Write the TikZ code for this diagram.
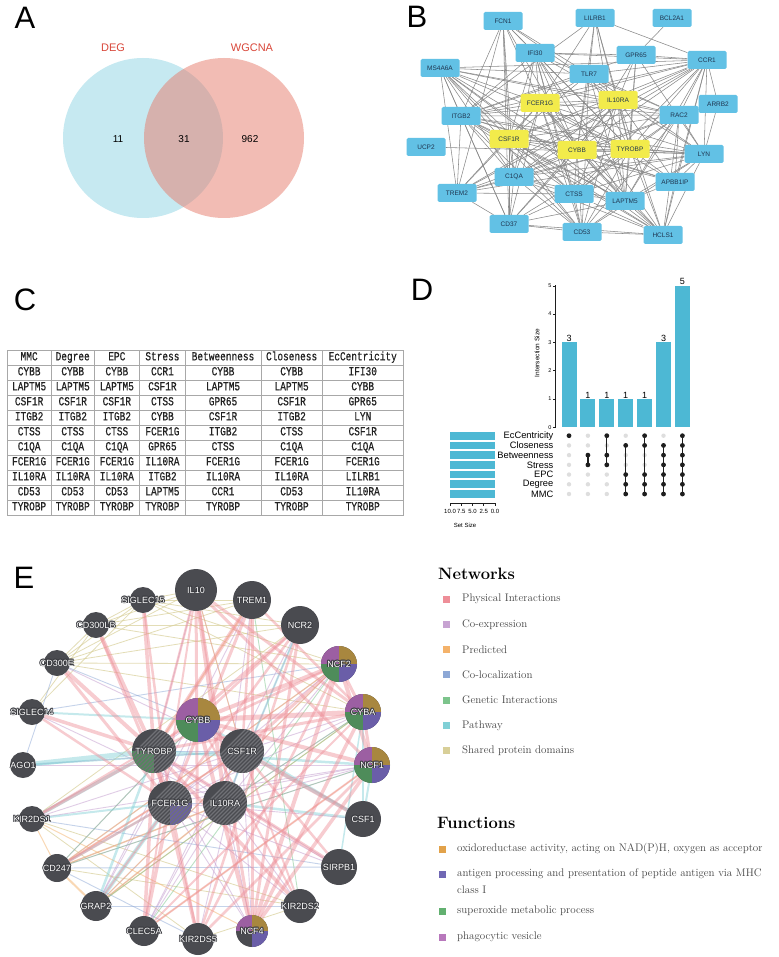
\documentclass[tikz,border=0pt]{standalone}
\usepackage{fontspec}
\newfontfamily\arial{Liberation Sans}
\newfontfamily\monof[FakeStretch=0.77,FakeBold=0.5]{Liberation Mono}
\usetikzlibrary{calc,matrix,backgrounds}
\definecolor{vblue}{HTML}{C6E9F1}
\definecolor{vred}{HTML}{E77B6B}
\definecolor{vtext}{HTML}{D9473A}
\definecolor{bblue}{HTML}{62C1E5}
\definecolor{byellow}{HTML}{F2EB4B}
\definecolor{btext}{HTML}{1F3550}
\definecolor{bedge}{HTML}{8A8A8A}
\definecolor{tabline}{HTML}{A8A8A8}
\definecolor{tabtext}{HTML}{222222}
\definecolor{ubar}{HTML}{4DB8D4}
\definecolor{udark}{HTML}{1E1E1E}
\definecolor{ugray}{HTML}{DEDEDE}
\definecolor{edark}{HTML}{4A4B50}
\definecolor{halo}{HTML}{3A3B40}
\definecolor{hatchc}{HTML}{707176}
\definecolor{qpurple}{HTML}{9C5FA2}
\definecolor{qgold}{HTML}{A8873F}
\definecolor{qgreen}{HTML}{4E8C5A}
\definecolor{qblue}{HTML}{6A5EA8}
\definecolor{physc}{HTML}{EE8E98}
\definecolor{coexpc}{HTML}{C7A3D2}
\definecolor{predc}{HTML}{F4B26A}
\definecolor{colocc}{HTML}{8DA8D6}
\definecolor{genetc}{HTML}{7CC48C}
\definecolor{pathc}{HTML}{80D0D6}
\definecolor{domc}{HTML}{D8CF98}
\definecolor{legtext}{HTML}{454545}
\definecolor{fgold}{HTML}{E2A24A}
\definecolor{fblue}{HTML}{7068B4}
\definecolor{fgreen}{HTML}{62B070}
\definecolor{fpurple}{HTML}{B878BC}
\newcommand\haloone[3]{\rlap{\kern#1\raisebox{#2}{\textcolor{halo}{#3}}}}
\newcommand\halotext[1]{\haloone{-0.8pt}{0pt}{#1}\haloone{0.8pt}{0pt}{#1}\haloone{0pt}{0.8pt}{#1}\haloone{0pt}{-0.8pt}{#1}\haloone{-0.6pt}{0.6pt}{#1}\haloone{0.6pt}{0.6pt}{#1}\haloone{-0.6pt}{-0.6pt}{#1}\haloone{0.6pt}{-0.6pt}{#1}#1}
\newcommand\hatchit[2]{\begin{scope}\clip (#1) circle[radius=#2pt];\foreach \k in {-48,-44,...,48}{\draw[hatchc,line width=1.1pt] ($(#1)+(\k pt,-30pt)$) -- ++(60pt,60pt);}\end{scope}}
\newcommand\qfill[5]{\begin{scope}\clip (#1) circle[radius=#2pt];\fill[#3] (#1) rectangle ++(#4pt,#5pt);\end{scope}}
\begin{document}
\begin{tikzpicture}[x=1pt,y=-1pt,
  letter/.style={font=\arial\fontsize{31}{31}\selectfont, inner sep=0pt},
  vlab/.style={font=\arial\fontsize{11}{12}\selectfont, text=vtext, inner sep=0pt},
  vnum/.style={font=\arial\fontsize{10}{11}\selectfont, inner sep=0pt},
  bnode/.style={fill=bblue, minimum width=39pt, minimum height=18pt, rounded corners=1.5pt, font=\arial\fontsize{6.5}{7}\selectfont, text=btext, inner sep=0pt},
  ynode/.style={bnode, fill=byellow},
  bline/.style={draw=bedge, line width=0.55pt},
  utick/.style={font=\arial\fontsize{5.5}{6}\selectfont, inner sep=0.5pt},
  ucount/.style={font=\arial\fontsize{9}{10}\selectfont, inner sep=0.8pt},
  urow/.style={font=\arial\fontsize{9.3}{10}\selectfont, inner sep=0pt},
  usmall/.style={font=\arial\fontsize{6}{7}\selectfont, inner sep=0pt},
  enode/.style={circle, fill=edark, inner sep=0pt},
  etext/.style={font=\arial\fontsize{9}{10}\selectfont, text=white, inner sep=0pt},
  phys/.style={draw=physc, draw opacity=0.45},
  pathw/.style={draw=pathc, draw opacity=0.45},
  dom/.style={draw=domc, draw opacity=0.7, line width=0.8pt},
  coexp/.style={draw=coexpc, draw opacity=0.55, line width=0.9pt},
  pred/.style={draw=predc, draw opacity=0.5},
  coloc/.style={draw=colocc, draw opacity=0.5, line width=0.9pt},
  genet/.style={draw=genetc, draw opacity=0.5, line width=0.9pt},
  ntitle/.style={font=\bfseries\fontsize{16.5}{18}\selectfont, inner sep=0pt},
  ltext/.style={font=\fontsize{11}{13}\selectfont, text=legtext, inner sep=0pt}]
\useasboundingbox (0,0) rectangle (778,957);
\begin{scope}[on background layer]
\fill[white] (0,0) rectangle (778,957);
\end{scope}

% ---------------- Panel A
\node[letter] (lA) at (25,18) {A};
\fill[vblue] (143,138) circle[radius=80pt];
\fill[vred, fill opacity=0.5] (224,138) circle[radius=80pt];
\node[vlab] (vDEG) at (113,48) {DEG};
\node[vlab] (vWG) at (252,48) {WGCNA};
\node[vnum] (v11) at (118,139) {11};
\node[vnum] (v31) at (184,139) {31};
\node[vnum] (v962) at (250,139) {962};

% ---------------- Panel B
\node[letter] (lB) at (417,17) {B};
\node[bnode] (bFCN1) at (503,21) {FCN1};
\node[bnode] (bLILRB1) at (595,18) {LILRB1};
\node[bnode] (bBCL2A1) at (672,18) {BCL2A1};
\node[bnode] (bIFI30) at (535,53) {IFI30};
\node[bnode] (bGPR65) at (636,55) {GPR65};
\node[bnode] (bCCR1) at (707,60) {CCR1};
\node[bnode] (bMS4A6A) at (440,68) {MS4A6A};
\node[bnode] (bTLR7) at (589,74) {TLR7};
\node[ynode] (bFCER1G) at (540,103) {FCER1G};
\node[ynode] (bIL10RA) at (618,100) {IL10RA};
\node[bnode] (bARRB2) at (718,104) {ARRB2};
\node[bnode] (bITGB2) at (461,116) {ITGB2};
\node[bnode] (bRAC2) at (679,115) {RAC2};
\node[ynode] (bCSF1R) at (509,139) {CSF1R};
\node[bnode] (bUCP2) at (426,147) {UCP2};
\node[ynode] (bCYBB) at (577,150) {CYBB};
\node[ynode] (bTYROBP) at (630,149) {TYROBP};
\node[bnode] (bLYN) at (704,154) {LYN};
\node[bnode] (bC1QA) at (514,177) {C1QA};
\node[bnode] (bAPBB1IP) at (675,182) {APBB1IP};
\node[bnode] (bTREM2) at (457,193) {TREM2};
\node[bnode] (bCTSS) at (574,194) {CTSS};
\node[bnode] (bLAPTM5) at (625,201) {LAPTM5};
\node[bnode] (bCD37) at (509,224) {CD37};
\node[bnode] (bCD53) at (582,232) {CD53};
\node[bnode] (bHCLS1) at (663,235) {HCLS1};
\begin{scope}[on background layer]
\foreach \h in {FCER1G,IL10RA,CSF1R,CYBB,TYROBP}{\foreach \o in {FCN1,IFI30,CCR1,MS4A6A,TLR7,ITGB2,RAC2,LYN,C1QA,APBB1IP,TREM2,CTSS,LAPTM5,CD37,CD53,HCLS1}{\draw[bline] (b\h) -- (b\o);}}
\foreach \a/\b in {FCER1G/IL10RA,FCER1G/CSF1R,FCER1G/CYBB,FCER1G/TYROBP,IL10RA/CSF1R,IL10RA/CYBB,IL10RA/TYROBP,CSF1R/CYBB,CSF1R/TYROBP,CYBB/TYROBP,
 LILRB1/FCER1G,LILRB1/TYROBP,LILRB1/CYBB,LILRB1/IL10RA,GPR65/CYBB,GPR65/IL10RA,GPR65/TYROBP,ARRB2/RAC2,ARRB2/LYN,
 FCN1/IFI30,FCN1/ITGB2,FCN1/TREM2,FCN1/C1QA,FCN1/CD37,FCN1/TLR7,
 LILRB1/CCR1,LILRB1/TLR7,LILRB1/ITGB2,LILRB1/LAPTM5,BCL2A1/GPR65,
 IFI30/GPR65,IFI30/CCR1,IFI30/ITGB2,IFI30/CTSS,IFI30/LAPTM5,IFI30/CD53,IFI30/HCLS1,IFI30/RAC2,IFI30/C1QA,
 GPR65/CCR1,GPR65/ITGB2,GPR65/LYN,GPR65/LAPTM5,
 CCR1/MS4A6A,CCR1/TLR7,CCR1/ARRB2,CCR1/RAC2,CCR1/LYN,CCR1/ITGB2,CCR1/C1QA,CCR1/CTSS,CCR1/LAPTM5,CCR1/APBB1IP,CCR1/TREM2,CCR1/HCLS1,
 MS4A6A/ITGB2,MS4A6A/TLR7,MS4A6A/TREM2,MS4A6A/CD37,MS4A6A/CTSS,MS4A6A/LAPTM5,MS4A6A/CD53,MS4A6A/HCLS1,MS4A6A/RAC2,MS4A6A/C1QA,
 TLR7/ITGB2,TLR7/RAC2,TLR7/LYN,TLR7/CD53,TLR7/LAPTM5,
 ITGB2/RAC2,ITGB2/LYN,ITGB2/C1QA,ITGB2/TREM2,ITGB2/CTSS,ITGB2/LAPTM5,ITGB2/CD37,ITGB2/CD53,ITGB2/HCLS1,ITGB2/APBB1IP,
 RAC2/LYN,RAC2/C1QA,RAC2/CTSS,RAC2/LAPTM5,RAC2/HCLS1,RAC2/CD53,RAC2/APBB1IP,UCP2/LYN,
 LYN/C1QA,LYN/TREM2,LYN/CTSS,LYN/LAPTM5,LYN/HCLS1,LYN/APBB1IP,LYN/CD53,
 C1QA/TREM2,C1QA/CTSS,C1QA/CD37,C1QA/CD53,C1QA/HCLS1,C1QA/LAPTM5,TREM2/CTSS,TREM2/CD37,
 CTSS/LAPTM5,CTSS/CD37,CTSS/CD53,CTSS/HCLS1,LAPTM5/CD53,LAPTM5/HCLS1,LAPTM5/APBB1IP,LAPTM5/CD37,
 CD37/CD53,CD37/HCLS1,CD53/HCLS1,APBB1IP/HCLS1}{\draw[bline] (b\a) -- (b\b);}
\end{scope}

% ---------------- Panel C
\node[letter] (lC) at (25,300) {C};
\matrix (tab) [matrix of nodes, anchor=north west, row sep=-0.6pt, column sep=-0.6pt,
  nodes={draw=tabline, line width=0.6pt, minimum height=15pt, inner sep=0pt, text height=7.5pt, text depth=1.5pt, font=\monof\fontsize{12.3}{13}\selectfont, text=tabtext, anchor=center},
  column 1/.style={nodes={minimum width=44.6pt}},
  column 2/.style={nodes={minimum width=42.6pt}},
  column 3/.style={nodes={minimum width=45.6pt}},
  column 4/.style={nodes={minimum width=45.6pt}},
  column 5/.style={nodes={minimum width=75.6pt}},
  column 6/.style={nodes={minimum width=61.6pt}},
  column 7/.style={nodes={minimum width=80.6pt}}] at (3,346) {
MMC & Degree & EPC & Stress & Betweenness & Closeness & EcCentricity\\
CYBB & CYBB & CYBB & CCR1 & CYBB & CYBB & IFI30\\
LAPTM5 & LAPTM5 & LAPTM5 & CSF1R & LAPTM5 & LAPTM5 & CYBB\\
CSF1R & CSF1R & CSF1R & CTSS & GPR65 & CSF1R & GPR65\\
ITGB2 & ITGB2 & ITGB2 & CYBB & CSF1R & ITGB2 & LYN\\
CTSS & CTSS & CTSS & FCER1G & ITGB2 & CTSS & CSF1R\\
C1QA & C1QA & C1QA & GPR65 & CTSS & C1QA & C1QA\\
FCER1G & FCER1G & FCER1G & IL10RA & FCER1G & FCER1G & FCER1G\\
IL10RA & IL10RA & IL10RA & ITGB2 & IL10RA & IL10RA & LILRB1\\
CD53 & CD53 & CD53 & LAPTM5 & CCR1 & CD53 & IL10RA\\
TYROBP & TYROBP & TYROBP & TYROBP & TYROBP & TYROBP & TYROBP\\
};

% ---------------- Panel D
\node[letter] (lD) at (422,290) {D};
\draw[udark, line width=0.8pt] (555.7,428) -- (555.7,285.2);
\foreach \k in {0,...,5}{
  \draw[udark, line width=0.6pt] (555.7,{427.3-28.3*\k}) -- ++(-3,0);
  \node[utick, anchor=east] (yt\k) at (552,{427.3-28.3*\k}) {\k};}
\node[usmall, rotate=90, font=\arial\fontsize{6.5}{7}\selectfont] (yttl) at (537,353) {Intersection Size};
\foreach \i/\h in {1/3,2/1,3/1,4/1,5/1,6/3,7/5}{
  \fill[ubar] ({569+18.9*(\i-1)-7.5},427.3) rectangle ({569+18.9*(\i-1)+7.5},{427.3-28.3*\h});
  \node[ucount, anchor=south] (uc\i) at ({569+18.9*(\i-1)},{427.3-28.3*\h}) {\h};}
\foreach \j/\t in {1/EcCentricity,2/Closeness,3/Betweenness,4/Stress,5/EPC,6/Degree,7/MMC}{
  \node[urow, anchor=east] (ur\j) at (553.5,{435.7+9.72*(\j-1)}) {\t};
  \fill[ubar] (450,{435.7+9.72*(\j-1)-3.9}) rectangle (495,{435.7+9.72*(\j-1)+3.9});
  \foreach \i in {1,...,7}{\fill[ugray] ({569+18.9*(\i-1)},{435.7+9.72*(\j-1)}) circle[radius=2.2pt];}}
\foreach \i/\lo/\hi/\s in {1/1/1/{1},2/3/4/{3,4},3/1/4/{1,3,4},4/2/7/{2,5,6,7},5/1/7/{1,2,5,6,7},6/2/7/{2,3,4,5,6,7},7/1/7/{1,2,3,4,5,6,7}}{
  \draw[udark, line width=1.3pt] ({569+18.9*(\i-1)},{435.7+9.72*(\lo-1)}) -- ({569+18.9*(\i-1)},{435.7+9.72*(\hi-1)});
  \foreach \r in \s {\fill[udark] ({569+18.9*(\i-1)},{435.7+9.72*(\r-1)}) circle[radius=2.4pt];}}
\draw[udark, line width=0.7pt] (450,503.3) -- (495,503.3);
\foreach \k/\t in {0/10.0,1/7.5,2/5.0,3/2.5,4/0.0}{
  \draw[udark, line width=0.7pt] ({450+11.25*\k},503.3) -- ++(0,3);
  \node[usmall] (sx\k) at ({450+11.25*\k},511) {\t};}
\node[usmall] (sttl) at (465,525) {Set Size};

% ---------------- Panel E
\node[letter] (lE) at (24,578) {E};
\node[enode, minimum size=42pt] (eIL10) at (196,590) {};
\node[enode, minimum size=38pt] (eTREM1) at (252,600) {};
\node[enode, minimum size=38pt] (eNCR2) at (300,625) {};
\node[enode, minimum size=36pt] (eNCF2) at (339,664) {};
\node[enode, minimum size=36pt] (eCYBA) at (363,712) {};
\node[enode, minimum size=36pt] (eNCF1) at (372,765) {};
\node[enode, minimum size=36pt] (eCSF1) at (363,819) {};
\node[enode, minimum size=36pt] (eSIRPB1) at (339,867) {};
\node[enode, minimum size=34pt] (eKIR2DS2) at (300,906) {};
\node[enode, minimum size=32pt] (eNCF4) at (252,931) {};
\node[enode, minimum size=32pt] (eKIR2DS5) at (198,939) {};
\node[enode, minimum size=30pt] (eCLEC5A) at (144,931) {};
\node[enode, minimum size=30pt] (eGRAP2) at (96,906) {};
\node[enode, minimum size=28pt] (eCD247) at (57,868) {};
\node[enode, minimum size=26pt] (eKIR2DS1) at (32,819) {};
\node[enode, minimum size=26pt] (eAGO1) at (23,765) {};
\node[enode, minimum size=26pt] (eSIGLEC14) at (32,712) {};
\node[enode, minimum size=26pt] (eCD300E) at (57,663) {};
\node[enode, minimum size=26pt] (eCD300LB) at (96,625) {};
\node[enode, minimum size=26pt] (eSIGLEC15) at (143,600) {};
\node[enode, minimum size=44pt] (eCYBB) at (198,720) {};
\node[enode, minimum size=44pt] (eTYROBP) at (154,751) {};
\node[enode, minimum size=44pt] (eCSF1R) at (242,751) {};
\node[enode, minimum size=44pt] (eFCER1G) at (170,803) {};
\node[enode, minimum size=44pt] (eIL10RA) at (225,803) {};
% pies
\foreach \n in {NCF2,CYBA,NCF1}{
  \qfill{e\n}{18}{qpurple}{-25}{25}\qfill{e\n}{18}{qgold}{25}{25}\qfill{e\n}{18}{qgreen}{-25}{-25}\qfill{e\n}{18}{qblue}{25}{-25}}
\qfill{eCYBB}{22}{qpurple}{-25}{25}\qfill{eCYBB}{22}{qgold}{25}{25}\qfill{eCYBB}{22}{qgreen}{-25}{-25}\qfill{eCYBB}{22}{qblue}{25}{-25}
\qfill{eNCF4}{16}{qpurple}{-25}{25}\qfill{eNCF4}{16}{qgold}{25}{25}\qfill{eNCF4}{16}{qblue}{25}{-25}
\qfill{eTYROBP}{22}{qgreen}{-25}{-25}
\qfill{eFCER1G}{22}{qblue}{25}{-25}
\foreach \n in {TYROBP,CSF1R,FCER1G,IL10RA}{\hatchit{e\n}{22}}
% labels
\foreach \n in {IL10,TREM1,NCR2,NCF2,CYBA,NCF1,CSF1,SIRPB1,KIR2DS2,NCF4,KIR2DS5,CLEC5A,GRAP2,CD247,KIR2DS1,AGO1,SIGLEC14,CD300E,CD300LB,SIGLEC15,CYBB,TYROBP,CSF1R,FCER1G,IL10RA}{
  \node[etext] (t\n) at (e\n) {\halotext{\n}};}
% edges
\begin{scope}[on background layer]
\foreach \a/\b in {SIGLEC15/CD300LB,SIGLEC15/CD300E,CD300LB/CD300E,SIGLEC15/TREM1,SIGLEC15/NCR2,CD300LB/TREM1,CD300LB/NCR2,CD300E/TREM1,CD300E/NCR2,CD300LB/NCF2,SIGLEC15/NCF2,CD300E/CYBA,SIGLEC14/SIGLEC15,SIGLEC14/CD300LB,KIR2DS1/KIR2DS2,KIR2DS1/KIR2DS5,KIR2DS5/KIR2DS2,SIGLEC15/IL10,CD300LB/IL10,CD300E/IL10,KIR2DS1/NCR2,CD247/KIR2DS2,CD300E/NCF2,SIGLEC15/CYBA}{\draw[dom] (e\a) -- (e\b);}
\foreach \a/\b in {CYBB/TYROBP,CYBB/FCER1G,CSF1R/FCER1G,IL10RA/TYROBP,NCF2/IL10RA,NCF4/CSF1R,NCF4/FCER1G,NCF4/TYROBP,NCF4/IL10RA,CD247/NCF2,CD247/IL10RA,GRAP2/IL10RA,GRAP2/CYBB,KIR2DS1/CYBA,AGO1/CSF1R,SIRPB1/FCER1G,SIRPB1/TYROBP,SIRPB1/IL10RA,CSF1/FCER1G,NCF1/FCER1G,NCF1/IL10RA,CLEC5A/CSF1R,CLEC5A/IL10RA,KIR2DS2/FCER1G,KIR2DS2/IL10RA,TREM1/IL10RA,NCR2/IL10RA,IL10/CSF1R,IL10/TYROBP,NCF2/FCER1G,CYBA/IL10RA,CYBA/FCER1G,KIR2DS5/CSF1R,CD247/CYBB,SIGLEC14/IL10RA,AGO1/NCF1,CD300E/CSF1R,TREM1/GRAP2,NCR2/CLEC5A,NCF2/GRAP2,KIR2DS1/NCF1,CD247/NCF1}{\draw[coexp] (e\a) -- (e\b);}
\foreach \a/\b/\w in {CD247/GRAP2/2,CD247/IL10RA/1.5,CD247/CSF1R/1.2,GRAP2/IL10RA/1.5,KIR2DS1/NCF4/1,GRAP2/CYBA/1,TREM1/TYROBP/1.5,IL10/CSF1R/1,KIR2DS1/CD247/1,CLEC5A/NCF1/1,CD247/NCF2/1.2,GRAP2/NCF2/1}{\draw[pred, line width=\w pt] (e\a) -- (e\b);}
\foreach \a/\b in {CYBB/CSF1R,FCER1G/IL10RA,CD247/KIR2DS5,GRAP2/KIR2DS2,TYROBP/CSF1R,SIGLEC14/NCF2,KIR2DS1/SIRPB1,AGO1/CD300E,CD300E/CYBB,CD247/SIRPB1}{\draw[coloc] (e\a) -- (e\b);}
\foreach \a/\b in {CYBB/CD247,NCF2/CLEC5A,CYBA/GRAP2,NCF1/CD247,IL10RA/CYBA,TREM1/KIR2DS2}{\draw[genet] (e\a) -- (e\b);}
\foreach \a/\b/\w in {TYROBP/AGO1/5,TYROBP/KIR2DS1/3.5,FCER1G/GRAP2/4,FCER1G/CD247/2,CSF1R/CSF1/3,CYBB/CSF1/2,CYBA/CSF1/2.5,NCF1/CSF1/2,IL10RA/CSF1/2.5,FCER1G/KIR2DS1/2,CSF1R/AGO1/2,TYROBP/GRAP2/2.5,IL10RA/NCR2/2,TYROBP/NCF1/2.5,SIRPB1/CYBA/1.5,CYBB/SIGLEC14/2}{\draw[pathw, line width=\w pt] (e\a) -- (e\b);}
\foreach \a/\b/\w in {TYROBP/SIGLEC15/3.5,TYROBP/CD300LB/4,TYROBP/CD300E/4,TYROBP/SIGLEC14/3.5,TYROBP/TREM1/4,TYROBP/KIR2DS1/3,TYROBP/KIR2DS2/3.5,TYROBP/KIR2DS5/3.5,TYROBP/CLEC5A/3.5,TYROBP/SIRPB1/3.5,TYROBP/NCR2/3,TYROBP/IL10/2.5,
 FCER1G/SIGLEC15/2.5,FCER1G/CD300LB/3,FCER1G/CD300E/3,FCER1G/SIGLEC14/2.5,FCER1G/CLEC5A/3.5,FCER1G/KIR2DS5/2.5,FCER1G/TREM1/3,FCER1G/NCR2/2.5,FCER1G/GRAP2/2,FCER1G/CD247/2.5,
 CYBB/NCF2/4,CYBB/CYBA/5,CYBB/NCF1/4,CYBB/NCF4/4,NCF2/CYBA/3,NCF2/NCF1/4,NCF2/NCF4/4,CYBA/NCF1/3,CYBA/NCF4/3.5,NCF1/NCF4/3.5,
 IL10/IL10RA/4,IL10/NCF4/3,IL10/KIR2DS5/3,TREM1/NCF4/3,NCR2/NCF4/3,NCR2/KIR2DS5/2.5,CSF1/CSF1R/4,CSF1R/SIRPB1/2.5,IL10/CYBA/3,IL10/NCF1/3,TREM1/CYBA/2.5,NCF2/CSF1R/3,NCF2/TYROBP/2.5,CYBA/TYROBP/3,CYBB/CSF1R/2.5,CSF1R/KIR2DS2/2,TREM1/CSF1R/2.5,NCR2/CYBB/2.5,IL10/CLEC5A/2,CSF1R/CD247/2,NCF1/KIR2DS5/2.5,CYBA/CLEC5A/2,NCF1/CLEC5A/2,CYBB/KIR2DS2/2,TYROBP/FCER1G/3,NCF2/KIR2DS5/2.5,KIR2DS1/CYBB/2}{\draw[phys, line width=\w pt] (e\a) -- (e\b);}
\end{scope}

% legend
\node[ntitle, anchor=west] (netT) at (438,574) {Networks};
\foreach \j/\c/\t in {0/physc/Physical Interactions,1/coexpc/Co-expression,2/predc/Predicted,3/colocc/Co-localization,4/genetc/Genetic Interactions,5/pathc/Pathway,6/domc/Shared protein domains}{
  \fill[\c] (443,{599+25.3*\j-3.5}) rectangle ++(7,7);
  \node[ltext, anchor=west] (nl\j) at (462,{599+25.3*\j}) {\t};}
\node[ntitle, anchor=west] (funT) at (437,823) {Functions};
\fill[fgold] (438.5,845.5) rectangle ++(7,7);
\node[ltext, anchor=west] (f1) at (457,849) {oxidoreductase activity, acting on NAD(P)H, oxygen as acceptor};
\fill[fblue] (438.5,870.5) rectangle ++(7,7);
\node[ltext, anchor=west] (f2) at (457,874) {antigen processing and presentation of peptide antigen via MHC};
\node[ltext, anchor=west] (f2b) at (457,890) {class I};
\fill[fgreen] (438.5,907.5) rectangle ++(7,7);
\node[ltext, anchor=west] (f3) at (457,911) {superoxide metabolic process};
\fill[fpurple] (438.5,933.5) rectangle ++(7,7);
\node[ltext, anchor=west] (f4) at (457,937) {phagocytic vesicle};
\end{tikzpicture}
\end{document}
